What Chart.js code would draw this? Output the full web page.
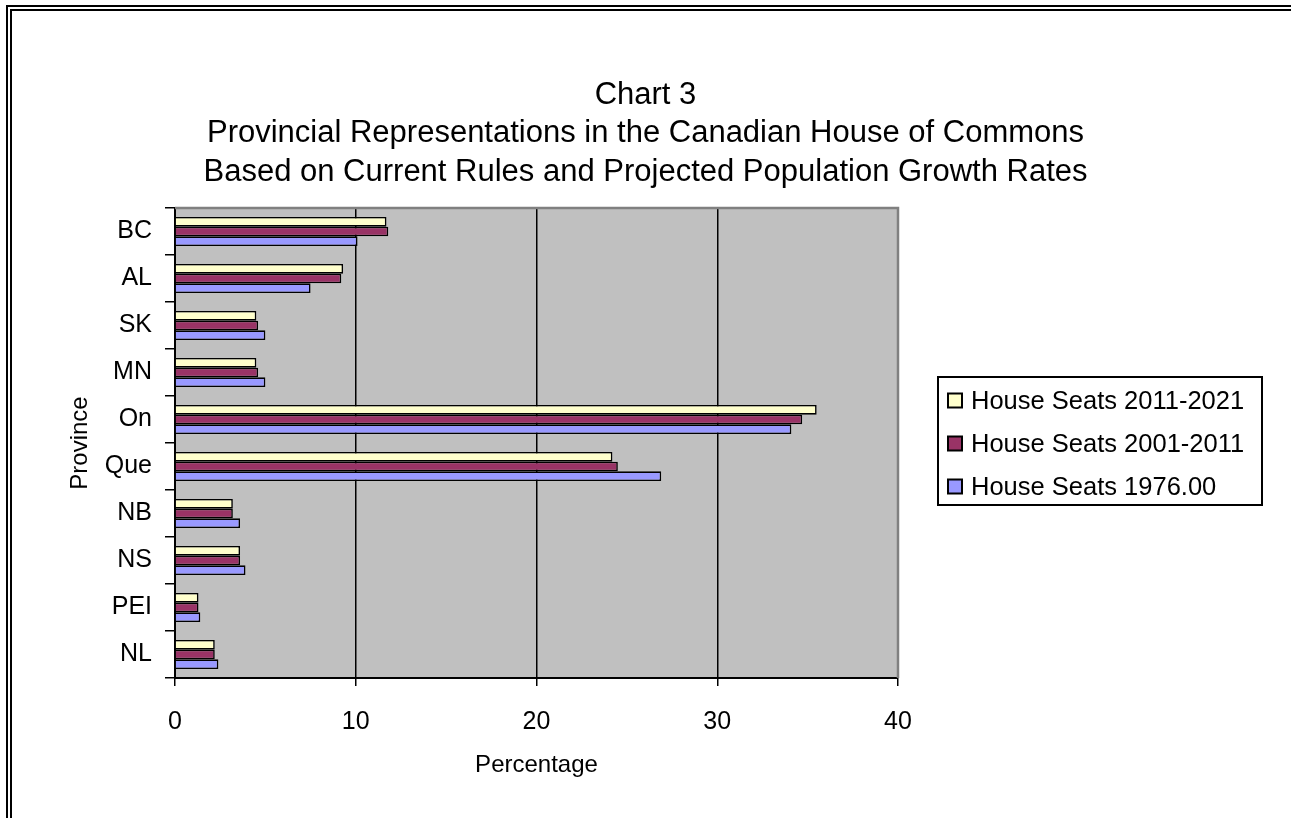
<!DOCTYPE html>
<html>
<head>
<meta charset="utf-8">
<script src="https://cdn.jsdelivr.net/npm/chart.js@4"></script>
<style>
  html, body { margin: 0; padding: 0; background: #fff; }
  #wrap { position: relative; width: 1291px; height: 818px; overflow: hidden; }
  .rule { position: absolute; border-top: 2px solid #000; border-left: 2px solid #000; right: -10px; bottom: -10px; }
  #outer { left: 6px; top: 5px; }
  #inner { left: 10px; top: 9px; }
  canvas { position: absolute; left: 0; top: 0; }
</style>
</head>
<body>
<div id="wrap">
  <div class="rule" id="outer"></div>
  <div class="rule" id="inner"></div>
  <canvas id="barChart" width="1291" height="818"></canvas>
</div>
<script>
const provinces = ["BC", "AL", "SK", "MN", "On", "Que", "NB", "NS", "PEI", "NL"];
const seats2011 = [11.7, 9.3, 4.5, 4.5, 35.5, 24.2, 3.2, 3.6, 1.3, 2.2];
const seats2001 = [11.8, 9.2, 4.6, 4.6, 34.7, 24.5, 3.2, 3.6, 1.3, 2.2];
const seats1976 = [10.1, 7.5, 5.0, 5.0, 34.1, 26.9, 3.6, 3.9, 1.4, 2.4];
const xTicks = [0, 10, 20, 30, 40];

const FONT = "'Liberation Sans', Arial, sans-serif";

document.addEventListener("DOMContentLoaded", function () {
  const ctx = document.getElementById("barChart").getContext("2d");

  // grey plot area, with the darker frame on top and right
  const plotArea = {
    id: "plotArea",
    beforeDraw(chart) {
      const a = chart.chartArea;
      const c = chart.ctx;
      c.save();
      c.fillStyle = "#C0C0C0";
      c.fillRect(a.left, a.top, a.right - a.left, a.bottom - a.top);
      c.restore();
    },
    beforeDatasetsDraw(chart) {
      const a = chart.chartArea;
      const c = chart.ctx;
      c.save();
      c.strokeStyle = "#808080";
      c.lineWidth = 2.5;
      c.beginPath();
      c.moveTo(a.left, a.top);
      c.lineTo(a.right, a.top);
      c.lineTo(a.right, a.bottom);
      c.stroke();
      c.restore();
    }
  };

  // boxed legend to the right of the plot
  const boxLegend = {
    id: "boxLegend",
    afterDraw(chart) {
      const c = chart.ctx;
      const box = { x: 938, y: 377, w: 324, h: 128 };
      c.save();
      c.strokeStyle = "#000";
      c.lineWidth = 2;
      c.strokeRect(box.x, box.y, box.w, box.h);
      c.font = "25.5px " + FONT;
      c.textBaseline = "middle";
      c.textAlign = "left";
      chart.data.datasets.forEach((ds, i) => {
        const cy = box.y + 23.5 + i * 43;
        c.fillStyle = ds.backgroundColor;
        c.fillRect(948, cy - 7, 14, 14);
        c.strokeRect(948, cy - 7, 14, 14);
        c.fillStyle = "#000";
        c.fillText(ds.label, 971, cy + 1);
      });
      c.restore();
    }
  };

  new Chart(ctx, {
    type: "bar",
    data: {
      labels: provinces,
      datasets: [
        { label: "House Seats 2011-2021", data: seats2011, backgroundColor: "#FFFFCC" },
        { label: "House Seats 2001-2011", data: seats2001, backgroundColor: "#993366" },
        { label: "House Seats 1976.00", data: seats1976, backgroundColor: "#9999FF" }
      ]
    },
    options: {
      indexAxis: "y",
      responsive: false,
      animation: false,
      layout: { padding: { top: 76, left: 0, right: 0, bottom: 0 } },
      datasets: {
        bar: {
          borderColor: "#000",
          borderWidth: 1.6,
          barPercentage: 1,
          categoryPercentage: 0.62
        }
      },
      plugins: {
        legend: { display: false },
        tooltip: { enabled: false },
        title: {
          display: true,
          text: [
            "Chart 3",
            "Provincial Representations in the Canadian House of Commons",
            "Based on Current Rules and Projected Population Growth Rates"
          ],
          color: "#000",
          font: { family: FONT, size: 31, weight: "normal", lineHeight: 1.242 },
          padding: { top: 0, bottom: 16.5 }
        }
      },
      scales: {
        x: {
          type: "linear",
          min: 0,
          max: 40,
          afterBuildTicks(scale) {
            scale.ticks = xTicks.map(v => ({ value: v }));
          },
          afterFit(scale) { scale.height = 140; },
          grid: { color: "#000", lineWidth: 1.5, tickLength: 8, tickColor: "#000" },
          border: { color: "#000", width: 2 },
          ticks: { color: "#000", padding: 21, font: { family: FONT, size: 25 } },
          title: {
            display: true,
            text: "Percentage",
            color: "#000",
            font: { family: FONT, size: 24 },
            padding: { top: 0, bottom: 38.6 }
          }
        },
        y: {
          type: "category",
          afterFit(scale) { scale.width = 175; },
          grid: {
            drawOnChartArea: false,
            offset: true,
            color: "#000",
            lineWidth: 1.5,
            tickLength: 10
          },
          border: { color: "#000", width: 2 },
          ticks: { color: "#000", padding: 13, font: { family: FONT, size: 25 } },
          title: {
            display: true,
            text: "Province",
            color: "#000",
            font: { family: FONT, size: 24 },
            padding: { top: 65.6, bottom: 0 }
          }
        },
        pad: {
          type: "linear",
          position: "right",
          afterFit(scale) { scale.width = 393; },
          grid: { display: false },
          border: { display: false },
          ticks: { display: false }
        }
      }
    },
    plugins: [plotArea, boxLegend]
  });
});
</script>
</body>
</html>
